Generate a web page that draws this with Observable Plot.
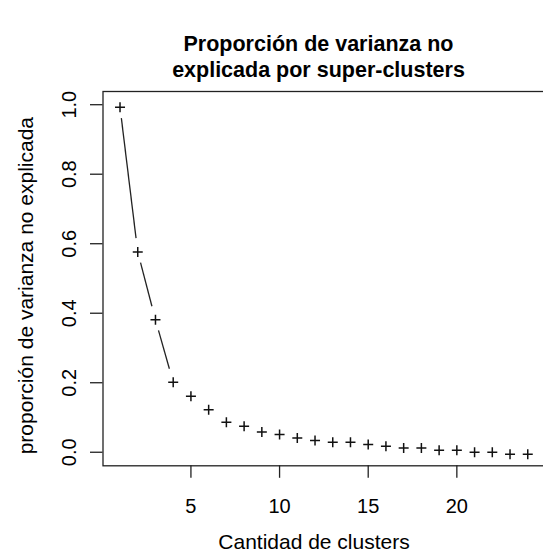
<!DOCTYPE html>
<html><head><meta charset="utf-8">
<script src="https://cdn.jsdelivr.net/npm/d3@7"></script>
<script src="https://cdn.jsdelivr.net/npm/@observablehq/plot@0.6"></script>
<style>
html,body{margin:0;padding:0;background:#fff;overflow:hidden;width:543px;height:556px}
#chart svg{display:block;overflow:hidden}
</style></head><body><div id="chart"></div>
<script>
const clusters = [1,2,3,4,5,6,7,8,9,10,11,12,13,14,15,16,17,18,19,20,21,22,23,24];
const unexplained = [0.993,0.576,0.381,0.2015,0.161,0.122,0.086,0.075,0.058,0.051,0.041,0.034,0.029,0.029,0.022,0.017,0.012,0.012,0.006,0.006,0.0,0.0,-0.006,-0.006];
const xTicks = [5,10,15,20];
const yTicks = [0,0.2,0.4,0.6,0.8,1.0];
const titleLine1 = "Proporción de varianza no";
const titleLine2 = "explicada por super-clusters";
const xLabel = "Cantidad de clusters";
const yLabel = "proporción de varianza no explicada";

const data = clusters.map((c,i)=>({k:c, v:unexplained[i]}));
const font = "'Liberation Sans', Arial, Helvetica, sans-serif";
const base = {
  width: 543, height: 556,
  marginLeft: 102.5, marginRight: -19, marginTop: 91, marginBottom: 90.7,
  x: {domain: [0.04, 25.96]},
  y: {domain: [-0.039, 1.038]},
  style: {fontFamily: font, background: "#fff", color: "#000"}
};
const plusSym = {draw(ctx, size){ const r = Math.sqrt(size/Math.PI); ctx.moveTo(-r,0); ctx.lineTo(r,0); ctx.moveTo(0,-r); ctx.lineTo(0,r); }};
const dots = Plot.dot(data, {x:"k", y:"v", symbol: plusSym, r: 5, stroke:"#111", strokeWidth:1.5, fill:"none"});

// probe to get the scales
const probe = Plot.plot({...base, marks: [dots]});
const sx = probe.scale("x"), sy = probe.scale("y");
const g1 = 11, g2 = 14;
const segs = [];
for (let i = 0; i < data.length - 1; i++) {
  const x1 = sx.apply(data[i].k), y1 = sy.apply(data[i].v);
  const x2 = sx.apply(data[i+1].k), y2 = sy.apply(data[i+1].v);
  const L = Math.hypot(x2-x1, y2-y1);
  if (L > g1 + g2 + 1) {
    const ux = (x2-x1)/L, uy = (y2-y1)/L;
    segs.push({x1: sx.invert(x1+ux*g1), y1: sy.invert(y1+uy*g1), x2: sx.invert(x2-ux*g2), y2: sy.invert(y2-uy*g2)});
  }
}

const chart = Plot.plot({
  ...base,
  marks: [
    Plot.frame({stroke:"#222", strokeWidth:1.3}),
    Plot.axisX(xTicks, {tickSize:12.5, tickPadding:20, fontSize:20, stroke:"#222", strokeWidth:1.3, label:null}),
    Plot.axisY(yTicks, {tickSize:12.5, tickFormat:()=>"", stroke:"#222", strokeWidth:1.3, label:null}),
    Plot.text(yTicks, {y:d=>d, text:d=>d.toFixed(1), frameAnchor:"left", dx:-27.5, rotate:-90, textAnchor:"middle", lineAnchor:"bottom", fontSize:20, fill:"#000"}),
    Plot.link(segs, {x1:"x1", y1:"y1", x2:"x2", y2:"y2", stroke:"#222", strokeWidth:1.3}),
    dots,
    Plot.text([xLabel], {frameAnchor:"bottom-left", dx:211, dy:76, textAnchor:"middle", lineAnchor:"middle", fontSize:21, fill:"#000"}),
    Plot.text([yLabel], {frameAnchor:"left", dx:-76.5, dy:7, rotate:-90, textAnchor:"middle", lineAnchor:"middle", fontSize:21, fill:"#000"}),
    Plot.text([titleLine1], {frameAnchor:"top-left", dx:215.5, dy:-47, textAnchor:"middle", lineAnchor:"middle", fontSize:21.5, fontWeight:"bold", fill:"#000"}),
    Plot.text([titleLine2], {frameAnchor:"top-left", dx:215.5, dy:-21, textAnchor:"middle", lineAnchor:"middle", fontSize:21.5, fontWeight:"bold", fill:"#000"})
  ]
});
document.getElementById("chart").appendChild(chart);
</script>
</body></html>
